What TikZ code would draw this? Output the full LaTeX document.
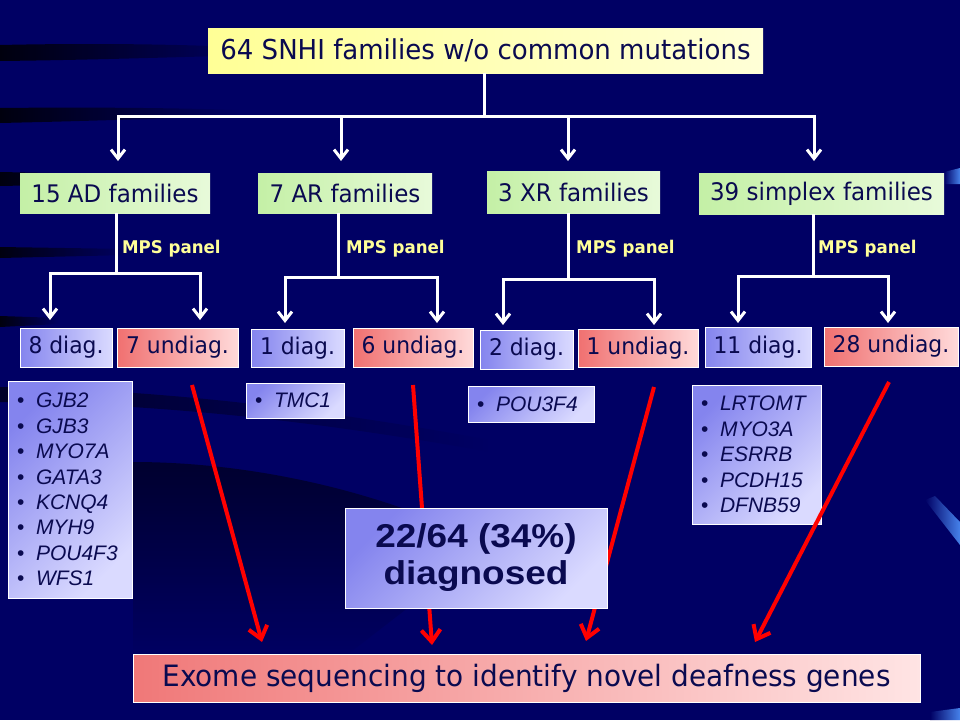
\documentclass[tikz,border=0pt]{standalone}
\usepackage{fontspec}
\setmainfont{DejaVu Sans}[FakeStretch=0.95]
\newfontfamily\arialf{Liberation Sans}
\newfontfamily\arialw{Liberation Sans}[FakeStretch=1.12]
\usetikzlibrary{arrows.meta,calc}
\definecolor{bg}{RGB}{0,0,100}
\definecolor{ink}{RGB}{10,10,80}
\definecolor{mpsy}{RGB}{255,255,153}
\definecolor{yelL}{RGB}{255,255,150}
\definecolor{yelR}{RGB}{255,255,215}
\definecolor{grnL}{RGB}{196,240,166}
\definecolor{grnR}{RGB}{232,250,218}
\definecolor{bluL}{RGB}{132,132,238}
\definecolor{bluR}{RGB}{218,218,255}
\definecolor{redL}{RGB}{240,112,112}
\definecolor{redR}{RGB}{255,218,218}
\definecolor{exL}{RGB}{240,120,120}
\definecolor{exR}{RGB}{255,228,228}
\definecolor{streak}{RGB}{70,130,235}
\newcommand{\gi}[1]{\makebox[19pt][l]{\upshape\textbullet}#1}
\begin{document}
\begin{tikzpicture}[x=1pt,y=-1pt,
  box/.style={inner sep=0pt, text=ink, font=\fontsize{24.2}{28}\selectfont},
  yelbox/.style={box, left color=yelL, right color=yelR, font=\fontsize{27.4}{30}\selectfont},
  grnbox/.style={box, left color=grnL, right color=grnR},
  diagbox/.style={box, draw=white, line width=1pt, left color=bluL, right color=bluR, font=\fontsize{23}{26}\selectfont},
  undbox/.style={box, draw=white, line width=1pt, left color=redL, right color=redR, font=\fontsize{23}{26}\selectfont},
  gene/.style={draw=white, line width=1pt, top color=bluL, bottom color=bluR, shading angle=45,
    inner xsep=9pt, inner ysep=0pt, text=ink, align=left,
    font=\arialf\fontsize{21}{25.4}\selectfont\itshape},
  mps/.style={text=mpsy, anchor=west, inner sep=0pt, font=\bfseries\fontsize{17.5}{19}\selectfont},
  wline/.style={draw=white, line width=3pt},
  warr/.style={draw=white, line width=3pt, -{Straight Barb[length=9pt,width=14pt]}},
  rarr/.style={draw=red, line width=4pt, -{Straight Barb[length=12pt,width=19pt]}}
]
\useasboundingbox (0,0) rectangle (960,720);
\fill[bg] (0,0) rectangle (960,720);
% background swooshes
\shade[left color=black, right color=bg, opacity=0.85] (0,45) .. controls (90,43) and (180,44) .. (260,48) -- (260,55) .. controls (180,57) and (90,60) .. (0,61) -- cycle;
\shade[left color=black, right color=bg, opacity=0.85] (0,108) .. controls (90,107) and (180,108) .. (240,110) -- (240,116) .. controls (180,118) and (90,121) .. (0,123) -- cycle;
\shade[left color=black, right color=bg, opacity=0.85] (0,172) -- (200,176) -- (200,182) -- (0,186) -- cycle;
\shade[left color=black, right color=bg, opacity=0.85] (0,247) -- (130,249) -- (130,255) -- (0,258) -- cycle;
\shade[left color=black, right color=bg, opacity=0.85] (0,316) -- (60,318) -- (60,324) -- (0,327) -- cycle;
\shade[left color=black, right color=bg, opacity=0.6] (0,387) .. controls (150,390) and (300,405) .. (490,440) -- (490,452) .. controls (300,418) and (150,404) .. (0,402) -- cycle;
\shade[top color=black!75!bg, bottom color=bg, opacity=0.7] (133,462) .. controls (250,462) and (380,490) .. (490,545) .. controls (430,590) and (380,630) .. (340,660) -- (133,660) -- cycle;
\shade[left color=bg, right color=streak] (944,172) -- (960,168) -- (960,184) -- (944,184) -- cycle;
\shade[left color=bg, right color=streak] (925,500) -- (935,496) -- (960,522) -- (960,545) -- cycle;
\shade[left color=bg, right color=streak] (930,712) -- (960,708) -- (960,720) -- (930,720) -- cycle;

% top
\node[yelbox, minimum width=555pt, minimum height=45pt] (top) at (485.5,50.5) {64 SNHI families w/o common mutations};
% family boxes
\node[grnbox, minimum width=190pt, minimum height=40pt] (AD) at (115,193) {15 AD families};
\node[grnbox, minimum width=174pt, minimum height=40pt] (AR) at (345,193) {7 AR families};
\node[grnbox, minimum width=173pt, minimum height=42pt] (XR) at (573.5,192) {3 XR families};
\node[grnbox, minimum width=245pt, minimum height=41pt] (SX) at (821.5,193.5) {39 simplex families};

% top connectors
\coordinate (j0) at (484,116);
\coordinate (t1) at (118,161);
\coordinate (t2) at (341,161);
\coordinate (t3) at (568,161);
\coordinate (t4) at (814,161);
\draw[wline] (top.south -| j0) -- (j0);
\draw[warr] (j0) -| (t1);
\draw[warr] (j0) -| (t2);
\draw[warr] (j0) -| (t3);
\draw[warr] (j0) -| (t4);

% MPS labels
\node[mps] (m1) at (122,249) {MPS panel};
\node[mps] (m2) at (346,249) {MPS panel};
\node[mps] (m3) at (576,249) {MPS panel};
\node[mps] (m4) at (818,249) {MPS panel};

% diag boxes
\node[diagbox, minimum width=92pt, minimum height=39pt] (d8) at (66,347.5) {8 diag.};
\node[undbox, minimum width=121pt, minimum height=39pt] (u7) at (177.5,347.5) {7 undiag.};
\node[diagbox, minimum width=93pt, minimum height=38pt] (d1) at (297.5,348) {1 diag.};
\node[undbox, minimum width=120pt, minimum height=39pt] (u6) at (413,347.5) {6 undiag.};
\node[diagbox, minimum width=93pt, minimum height=39pt] (d2) at (526.5,349.5) {2 diag.};
\node[undbox, minimum width=120pt, minimum height=38pt] (u1) at (638,348) {1 undiag.};
\node[diagbox, minimum width=106pt, minimum height=40pt] (d11) at (758,347) {11 diag.};
\node[undbox, minimum width=134pt, minimum height=39pt] (u28) at (891,346.5) {28 undiag.};

% second level connectors
\coordinate (hAD) at (116,273);
\coordinate (a1) at (50,320);
\coordinate (a2) at (200,320);
\draw[wline] (AD.south -| hAD) -- (hAD);
\draw[warr] (hAD) -| (a1);
\draw[warr] (hAD) -| (a2);
\coordinate (hAR) at (338,277);
\coordinate (a3) at (285,323);
\coordinate (a4) at (437,323);
\draw[wline] (AR.south -| hAR) -- (hAR);
\draw[warr] (hAR) -| (a3);
\draw[warr] (hAR) -| (a4);
\coordinate (hXR) at (568,279);
\coordinate (a5) at (503,325);
\coordinate (a6) at (654,325);
\draw[wline] (XR.south -| hXR) -- (hXR);
\draw[warr] (hXR) -| (a5);
\draw[warr] (hXR) -| (a6);
\coordinate (hSX) at (813,276);
\coordinate (a7) at (738,323);
\coordinate (a8) at (888,323);
\draw[wline] (SX.south -| hSX) -- (hSX);
\draw[warr] (hSX) -| (a7);
\draw[warr] (hSX) -| (a8);

% gene lists
\node[gene, text width=106pt, minimum height=217pt] (gAD) at (70,489.5)
  {\gi{GJB2}\\\gi{GJB3}\\\gi{MYO7A}\\\gi{GATA3}\\\gi{KCNQ4}\\\gi{MYH9}\\\gi{POU4F3}\\\gi{WFS1}};
\node[gene, text width=80pt, minimum height=35pt] (gAR) at (295,400.5) {\gi{TMC1}};
\node[gene, text width=108pt, minimum height=36pt] (gXR) at (531,404) {\gi{POU3F4}};
\node[gene, text width=111pt, minimum height=139pt] (gSX) at (756.5,454.5)
  {\gi{LRTOMT}\\\gi{MYO3A}\\\gi{ESRRB}\\\gi{PCDH15}\\\gi{DFNB59}};

% exome box
\node[box, draw=white, line width=1pt, left color=exL, right color=exR, minimum width=787pt, minimum height=48pt,
  font=\fontsize{29.4}{32}\selectfont] (ex) at (526.5,678) {Exome sequencing to identify novel deafness genes};

% red arrows
\coordinate (r1s) at (192,385); \coordinate (r1e) at (262,642);
\coordinate (r2s) at (413,385); \coordinate (r2e) at (432,645);
\coordinate (r3s) at (654,387); \coordinate (r3e) at (586,641);
\coordinate (r4s) at (889,382); \coordinate (r4e) at (755,642);
\draw[rarr] (r1s) -- (r1e);
\draw[rarr] (r2s) -- (r2e);
\draw[rarr] (r3s) -- (r3e);
\draw[rarr] (r4s) -- (r4e);

% summary box
\node[draw=white, line width=1pt, top color=bluL, bottom color=bluR, shading angle=45,
  minimum width=262pt, minimum height=100pt, inner sep=0pt, text=ink, align=center,
  font=\arialw\bfseries\fontsize{33}{37}\selectfont] (sum) at (476,558) {22/64 (34\%)\\diagnosed};
\end{tikzpicture}
\end{document}
